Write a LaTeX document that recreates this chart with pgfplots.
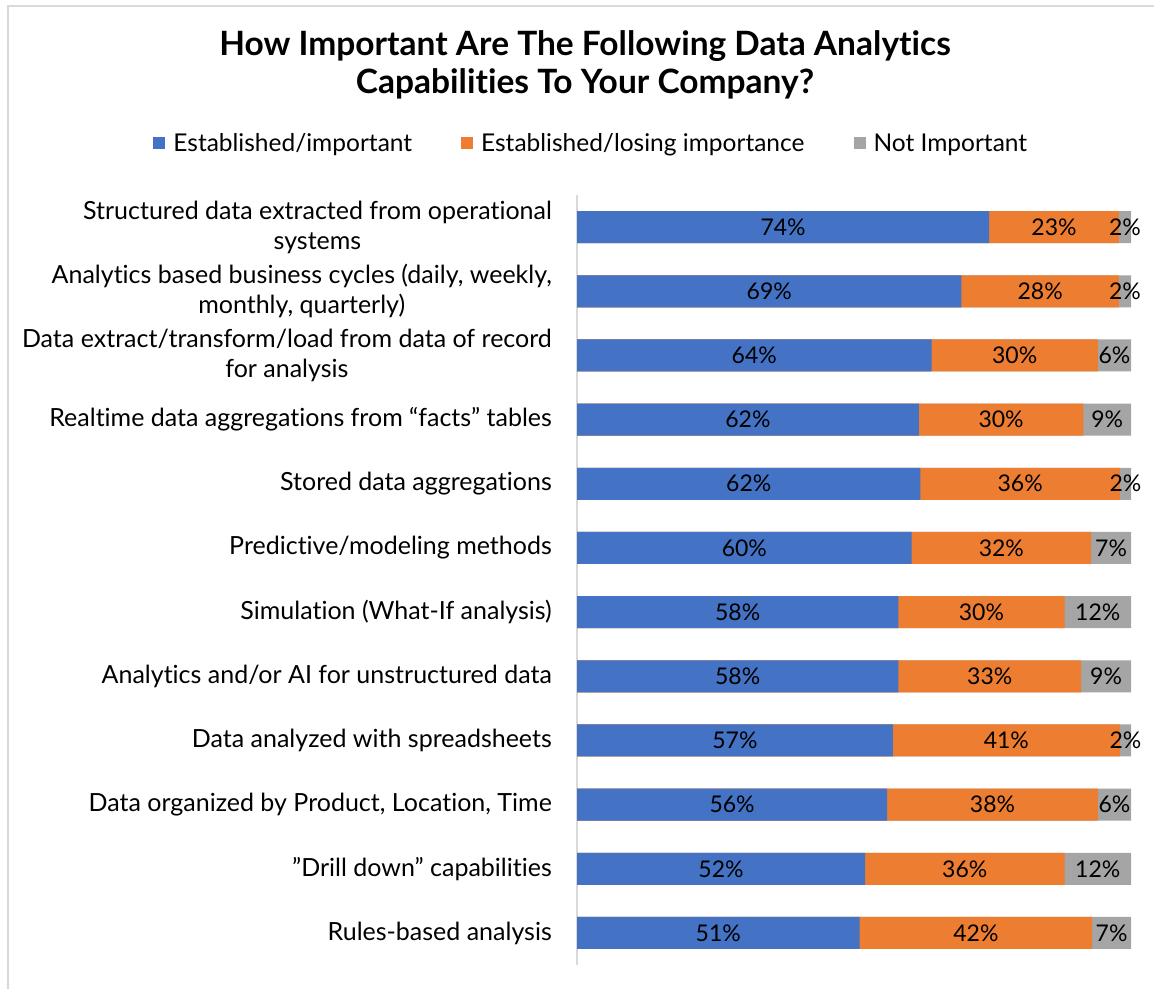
\documentclass[border=0pt]{standalone}
\usepackage{fontspec}
\setmainfont{Lato}[Ligatures=NoCommon]
\usepackage{pgfplots}
\usepackage{pgfplotstable}
\pgfplotsset{compat=1.18}
\definecolor{cblue}{HTML}{4472C4}
\definecolor{corange}{HTML}{ED7D31}
\definecolor{cgray}{HTML}{A5A5A5}
\definecolor{axgray}{HTML}{D9D9D9}

% widths add up to 100; bl/ol/gl are the printed (rounded) labels
\pgfplotstableread{
b    o    g    bl ol gl
74.4 23.4 2.2  74 23 2
69.4 28.4 2.2  69 28 2
64   30   6    64 30 6
61.7 29.7 8.6  62 30 9
62   36   2    62 36 2
60.4 32.4 7.2  60 32 7
58   30   12   58 30 12
58   33   9    58 33 9
57   41   2    57 41 2
56   38   6    56 38 6
52   36   12   52 36 12
51   42   7    51 42 7
}\capdata

\newcommand{\lblfont}{\fontsize{25bp}{30bp}\selectfont}
\newcommand{\numfont}{\fontsize{23bp}{30bp}\selectfont}

\begin{document}
\begin{tikzpicture}
\path[use as bounding box] (0,0) rectangle (1154bp,-989bp);
\draw[axgray, line width=1.5bp] (8bp,-989bp) -- (8bp,-6bp) -- (1154bp,-6bp);
\node[font=\fontsize{33.5bp}{38bp}\selectfont\bfseries, align=center]
  at (585bp,-65bp) {How Important Are The Following Data Analytics\\Capabilities To Your Company?};

\begin{axis}[
  at={(577bp,-965bp)}, anchor=south west,
  scale only axis, width=554bp, height=770bp,
  xmin=0, xmax=100, ymin=-0.5, ymax=11.5,
  y dir=reverse,
  hide x axis,
  axis y line*=left,
  y axis line style={-, draw=axgray, line width=1.5bp},
  major tick length=0pt,
  ytick={0,...,11},
  yticklabels={
    {Structured data extracted from operational\\systems},
    {Analytics based business cycles (daily, weekly,\\monthly, quarterly)},
    {Data extract/transform/load from data of record\\for analysis},
    {Realtime data aggregations from “facts” tables},
    {Stored data aggregations},
    {Predictive/modeling methods},
    {Simulation (What-If analysis)},
    {Analytics and/or AI for unstructured data},
    {Data analyzed with spreadsheets},
    {Data organized by Product, Location, Time},
    {”Drill down” capabilities},
    {Rules-based analysis}},
  yticklabel style={font=\lblfont, align=center, anchor=east, inner sep=0pt, xshift=-25bp},
  legend columns=3,
  legend image code/.code={\fill (0bp,-6bp) rectangle (12bp,6bp);},
  legend style={at={(0.024,1.0675)}, anchor=center, draw=none, fill=none,
    font=\fontsize{24.5bp}{30bp}\selectfont, nodes={inner sep=0pt},
    /tikz/every odd column/.append style={column sep=8bp},
    /tikz/every even column/.append style={column sep=49bp}},
  lbl/.style={draw=none, forget plot, point meta=explicit symbolic,
    nodes near coords={\pgfplotspointmeta\%},
    nodes near coords align={center},
    every node near coord/.append style={font=\numfont, text=black, inner sep=0pt}},
  bars/.style={xbar, bar width=32bp, bar shift=0pt, draw=none, forget plot},
]
\addlegendimage{fill=cblue, draw=none}
\addlegendimage{fill=corange, draw=none}
\addlegendimage{fill=cgray, draw=none}
\legend{Established/important, Established/losing importance, Not Important}

\addplot[bars, fill=cgray] table[x expr=\thisrow{b}+\thisrow{o}+\thisrow{g}, y expr=\coordindex] {\capdata};
\addplot[bars, fill=corange] table[x expr=\thisrow{b}+\thisrow{o}, y expr=\coordindex] {\capdata};
\addplot[bars, fill=cblue] table[x=b, y expr=\coordindex] {\capdata};

\addplot[lbl] table[x expr=\thisrow{b}/2, y expr=\coordindex, meta=bl] {\capdata};
\addplot[lbl] table[x expr=\thisrow{b}+\thisrow{o}/2, y expr=\coordindex, meta=ol] {\capdata};
\addplot[lbl] table[x expr=\thisrow{b}+\thisrow{o}+\thisrow{g}/2, y expr=\coordindex, meta=gl] {\capdata};
\end{axis}
\end{tikzpicture}
\end{document}
